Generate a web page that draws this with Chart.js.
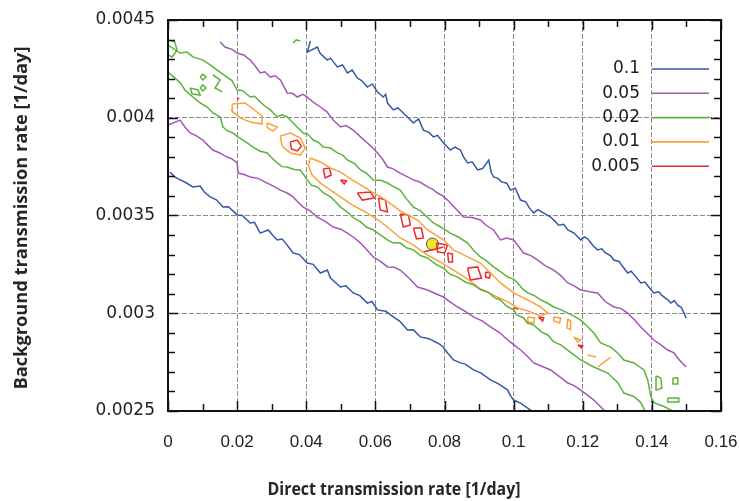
<!DOCTYPE html>
<html>
<head>
<meta charset="utf-8">
<script src="https://cdn.jsdelivr.net/npm/chart.js@4.4.1/dist/chart.umd.min.js"></script>
<style>
  html, body { margin: 0; padding: 0; background: #fff; }
  canvas { display: block; }
</style>
</head>
<body>
<canvas id="c" width="740" height="501"></canvas>
<script>
// ---- axes ----
var X_TICKS = [0, 0.02, 0.04, 0.06, 0.08, 0.1, 0.12, 0.14, 0.16];
var Y_TICKS = [0.0025, 0.003, 0.0035, 0.004, 0.0045];
var X_TITLE = 'Direct transmission rate [1/day]';
var Y_TITLE = 'Background transmission rate [1/day]';

// ---- contour levels (legend order) ----
var LEVELS = ['0.1', '0.05', '0.02', '0.01', '0.005'];
var LEVEL_COLORS = ['#3358a8', '#a356b5', '#5bb33b', '#fba23a', '#ec2a2e'];

// level 0.1
var blueUpper = [
  [0.0412,0.004393],[0.0403,0.004336],[0.0432,0.004362],[0.0440,0.004330],[0.0461,0.004295],
  [0.0470,0.004305],[0.0490,0.004260],[0.0505,0.004270],[0.0519,0.004229],[0.0533,0.004244],
  [0.0548,0.004203],[0.0560,0.004190],[0.0577,0.004157],[0.0591,0.004173],[0.0606,0.004132],
  [0.0623,0.004106],[0.0630,0.004120],[0.0635,0.004075],[0.0652,0.004040],[0.0665,0.004050],
  [0.0681,0.004024],[0.0695,0.004000],[0.0710,0.003973],[0.0725,0.003994],[0.0739,0.003937],
  [0.0755,0.003925],[0.0768,0.003902],[0.0780,0.003910],[0.0797,0.003871],[0.0817,0.003835],
  [0.0830,0.003850],[0.0846,0.003835],[0.0855,0.003800],[0.0867,0.003769],[0.0880,0.003775],
  [0.0896,0.003733],[0.0910,0.003740],[0.0928,0.003784],[0.0935,0.003720],[0.0942,0.003697],
  [0.0955,0.003690],[0.0965,0.003672],[0.0980,0.003665],[0.0991,0.003630],[0.1005,0.003640],
  [0.1020,0.003579],[0.1035,0.003570],[0.1045,0.003540],[0.1058,0.003513],[0.1070,0.003530],
  [0.1080,0.003520],[0.1095,0.003505],[0.1107,0.003492],[0.1120,0.003470],[0.1130,0.003450],
  [0.1145,0.003455],[0.1157,0.003426],[0.1175,0.003410],[0.1194,0.003375],[0.1205,0.003390],
  [0.1215,0.003380],[0.1230,0.003345],[0.1243,0.003324],[0.1255,0.003330],[0.1265,0.003310],
  [0.1280,0.003295],[0.1290,0.003272],[0.1305,0.003265],[0.1315,0.003240],[0.1330,0.003206],
  [0.1340,0.003215],[0.1350,0.003195],[0.1368,0.003155],[0.1380,0.003160],[0.1395,0.003125],
  [0.1406,0.003104],[0.1420,0.003110],[0.1430,0.003090],[0.1445,0.003070],[0.1455,0.003052],
  [0.1465,0.003065],[0.1475,0.003040],[0.1485,0.003030],[0.1493,0.003001],[0.1499,0.002976]
];
var blueLower = [
  [0.0006,0.003722],[0.0020,0.003697],[0.0035,0.003682],[0.0050,0.003670],[0.0072,0.003646],
  [0.0093,0.003651],[0.0105,0.003620],[0.0122,0.003595],[0.0140,0.003580],[0.0159,0.003543],
  [0.0175,0.003545],[0.0200,0.003503],[0.0215,0.003500],[0.0238,0.003462],[0.0250,0.003465],
  [0.0267,0.003410],[0.0290,0.003426],[0.0305,0.003395],[0.0316,0.003375],[0.0330,0.003380],
  [0.0340,0.003360],[0.0362,0.003308],[0.0380,0.003300],[0.0403,0.003257],[0.0420,0.003250],
  [0.0441,0.003206],[0.0461,0.003221],[0.0470,0.003180],[0.0499,0.003134],[0.0515,0.003140],
  [0.0536,0.003104],[0.0555,0.003090],[0.0577,0.003052],[0.0590,0.003060],[0.0606,0.003017],
  [0.0630,0.003010],[0.0652,0.002981],[0.0670,0.002960],[0.0693,0.002914],[0.0710,0.002915],
  [0.0730,0.002879],[0.0755,0.002870],[0.0780,0.002848],[0.0795,0.002830],[0.0809,0.002797],
  [0.0826,0.002761],[0.0846,0.002746],[0.0860,0.002740],[0.0884,0.002710],[0.0905,0.002695],
  [0.0933,0.002659],[0.0955,0.002640],[0.0983,0.002607],[0.0990,0.002580],[0.1000,0.002556],
  [0.1020,0.002540],[0.1049,0.002505],[0.1065,0.002480]
];

// level 0.05
var purpleUpper = [
  [0.0151,0.004387],[0.0165,0.004362],[0.0185,0.004350],[0.0200,0.004331],[0.0220,0.004320],
  [0.0238,0.004295],[0.0250,0.004270],[0.0267,0.004229],[0.0280,0.004235],[0.0296,0.004208],
  [0.0310,0.004215],[0.0325,0.004193],[0.0335,0.004160],[0.0345,0.004127],[0.0360,0.004125],
  [0.0374,0.004106],[0.0390,0.004120],[0.0403,0.004106],[0.0420,0.004080],[0.0441,0.004055],
  [0.0460,0.004030],[0.0478,0.003988],[0.0499,0.003953],[0.0515,0.003960],[0.0536,0.003937],
  [0.0557,0.003902],[0.0577,0.003871],[0.0590,0.003850],[0.0606,0.003820],[0.0620,0.003790],
  [0.0635,0.003748],[0.0650,0.003740],[0.0672,0.003717],[0.0690,0.003700],[0.0710,0.003682],
  [0.0730,0.003670],[0.0751,0.003646],[0.0765,0.003635],[0.0780,0.003615],[0.0795,0.003600],
  [0.0809,0.003579],[0.0830,0.003540],[0.0855,0.003492],[0.0880,0.003490],[0.0904,0.003477],
  [0.0920,0.003450],[0.0942,0.003426],[0.0962,0.003375],[0.0980,0.003385],[0.1000,0.003375],
  [0.1015,0.003340],[0.1029,0.003308],[0.1050,0.003295],[0.1070,0.003272],[0.1090,0.003245],
  [0.1116,0.003221],[0.1135,0.003195],[0.1157,0.003155],[0.1175,0.003140],[0.1194,0.003119],
  [0.1220,0.003110],[0.1243,0.003104],[0.1265,0.003060],[0.1290,0.003032],[0.1310,0.003025],
  [0.1330,0.003001],[0.1350,0.002965],[0.1368,0.002930],[0.1385,0.002900],[0.1406,0.002863],
  [0.1425,0.002840],[0.1446,0.002812],[0.1464,0.002797],[0.1480,0.002760],[0.1499,0.002725]
];
var purpleLower = [
  [0.0000,0.003963],[0.0035,0.003988],[0.0050,0.003950],[0.0064,0.003922],[0.0080,0.003910],
  [0.0101,0.003886],[0.0115,0.003860],[0.0130,0.003835],[0.0150,0.003820],[0.0171,0.003799],
  [0.0185,0.003790],[0.0200,0.003769],[0.0203,0.003717],[0.0220,0.003710],[0.0238,0.003697],
  [0.0260,0.003690],[0.0287,0.003666],[0.0305,0.003650],[0.0325,0.003630],[0.0345,0.003615],
  [0.0362,0.003595],[0.0375,0.003570],[0.0391,0.003543],[0.0410,0.003525],[0.0432,0.003492],
  [0.0455,0.003470],[0.0478,0.003441],[0.0500,0.003430],[0.0519,0.003410],[0.0540,0.003385],
  [0.0557,0.003359],[0.0575,0.003325],[0.0594,0.003288],[0.0615,0.003265],[0.0635,0.003237],
  [0.0655,0.003235],[0.0672,0.003221],[0.0700,0.003175],[0.0722,0.003134],[0.0751,0.003119],
  [0.0775,0.003100],[0.0797,0.003083],[0.0815,0.003060],[0.0838,0.003032],[0.0860,0.003010],
  [0.0884,0.002981],[0.0910,0.002960],[0.0933,0.002930],[0.0960,0.002900],[0.0983,0.002863],
  [0.1000,0.002840],[0.1020,0.002812],[0.1040,0.002780],[0.1058,0.002746],[0.1080,0.002730],
  [0.1107,0.002710],[0.1130,0.002680],[0.1157,0.002643],[0.1175,0.002630],[0.1194,0.002607],
  [0.1215,0.002580],[0.1232,0.002556],[0.1261,0.002505],[0.1275,0.002474]
];

// level 0.02 (closed band + islands)
var greenBand = [
  [0.0000,0.004372],[0.0035,0.004331],[0.0055,0.004336],[0.0072,0.004311],[0.0101,0.004295],
  [0.0122,0.004270],[0.0142,0.004244],[0.0171,0.004208],[0.0185,0.004190],[0.0200,0.004142],
  [0.0215,0.004140],[0.0238,0.004106],[0.0250,0.004110],[0.0267,0.004081],[0.0280,0.004060],
  [0.0296,0.004040],[0.0316,0.004004],[0.0330,0.004015],[0.0345,0.004004],[0.0362,0.003973],
  [0.0375,0.003950],[0.0391,0.003922],[0.0405,0.003915],[0.0420,0.003886],[0.0435,0.003875],
  [0.0449,0.003850],[0.0470,0.003845],[0.0490,0.003820],[0.0505,0.003810],[0.0519,0.003784],
  [0.0540,0.003765],[0.0557,0.003733],[0.0575,0.003715],[0.0594,0.003682],[0.0615,0.003680],
  [0.0635,0.003666],[0.0650,0.003650],[0.0672,0.003630],[0.0690,0.003585],[0.0710,0.003543],
  [0.0730,0.003525],[0.0745,0.003500],[0.0768,0.003462],[0.0790,0.003440],[0.0817,0.003410],
  [0.0840,0.003390],[0.0867,0.003359],[0.0885,0.003320],[0.0904,0.003288],[0.0920,0.003270],
  [0.0942,0.003237],[0.0960,0.003215],[0.0983,0.003185],[0.1000,0.003175],[0.1012,0.003155],
  [0.1025,0.003125],[0.1041,0.003104],[0.1060,0.003090],[0.1078,0.003068],[0.1095,0.003055],
  [0.1116,0.003032],[0.1135,0.003020],[0.1157,0.003001],[0.1175,0.002985],[0.1194,0.002965],
  [0.1215,0.002930],[0.1232,0.002899],[0.1252,0.002848],[0.1281,0.002827],[0.1301,0.002797],
  [0.1319,0.002761],[0.1348,0.002746],[0.1377,0.002710],[0.1388,0.002659],[0.1397,0.002574],
  [0.1406,0.002543],[0.1435,0.002523],[0.1455,0.002505],[0.1461,0.002474],
  [0.1388,0.002474],[0.1368,0.002543],[0.1348,0.002574],[0.1319,0.002592],[0.1301,0.002646],
  [0.1272,0.002694],[0.1232,0.002725],[0.1194,0.002761],[0.1165,0.002800],[0.1136,0.002838],
  [0.1115,0.002855],[0.1099,0.002889],[0.1080,0.002905],[0.1058,0.002940],[0.1040,0.002950],
  [0.1029,0.002976],[0.1010,0.002990],[0.1000,0.003017],[0.0980,0.003035],[0.0962,0.003068],
  [0.0945,0.003080],[0.0925,0.003109],[0.0905,0.003120],[0.0884,0.003145],[0.0860,0.003160],
  [0.0838,0.003185],[0.0815,0.003200],[0.0797,0.003231],[0.0775,0.003250],[0.0751,0.003283],
  [0.0730,0.003295],[0.0710,0.003324],[0.0690,0.003335],[0.0672,0.003359],[0.0650,0.003360],
  [0.0635,0.003375],[0.0615,0.003400],[0.0594,0.003426],[0.0575,0.003440],[0.0557,0.003467],
  [0.0535,0.003490],[0.0519,0.003518],[0.0499,0.003543],[0.0485,0.003570],[0.0470,0.003595],
  [0.0450,0.003615],[0.0432,0.003646],[0.0415,0.003655],[0.0403,0.003682],[0.0383,0.003733],
  [0.0365,0.003735],[0.0345,0.003748],[0.0330,0.003750],[0.0316,0.003769],[0.0300,0.003795],
  [0.0287,0.003820],[0.0265,0.003830],[0.0246,0.003850],[0.0230,0.003870],[0.0217,0.003886],
  [0.0200,0.003905],[0.0188,0.003922],[0.0170,0.003935],[0.0159,0.003953],[0.0151,0.004004],
  [0.0130,0.004025],[0.0113,0.004055],[0.0090,0.004080],[0.0072,0.004106],[0.0050,0.004140],
  [0.0035,0.004180],[0.0000,0.004234]
];
var greenIslands = [
  [[0.0000,0.004398],[0.0020,0.004387],[0.0026,0.004346],[0.0012,0.004311],[0.0000,0.004321]],
  [[0.0093,0.004208],[0.0101,0.004223],[0.0110,0.004208],[0.0101,0.004193],[0.0093,0.004208]],
  [[0.0093,0.004152],[0.0101,0.004168],[0.0110,0.004152],[0.0101,0.004137],[0.0093,0.004152]],
  [[0.0064,0.004152],[0.0087,0.004142],[0.0093,0.004116],[0.0070,0.004121],[0.0064,0.004152]],
  [[0.0130,0.004219],[0.0151,0.004193],[0.0136,0.004152],[0.0157,0.004132]],
  [[0.0362,0.004382],[0.0371,0.004398],[0.0383,0.004392]],
  [[0.1412,0.002679],[0.1426,0.002669],[0.1429,0.002618],[0.1414,0.002607],[0.1412,0.002679]],
  [[0.1461,0.002669],[0.1475,0.002669],[0.1475,0.002638],[0.1461,0.002638],[0.1461,0.002669]],
  [[0.1446,0.002566],[0.1478,0.002566],[0.1478,0.002546],[0.1446,0.002546],[0.1446,0.002566]]
];

// level 0.01
var orangeLoops = [
  [[0.0186,0.004070],[0.0223,0.004075],[0.0243,0.004050],[0.0272,0.004009],[0.0272,0.003968],
   [0.0238,0.003978],[0.0209,0.003999],[0.0188,0.004029],[0.0186,0.004070]],
  [[0.0287,0.003973],[0.0316,0.003953],[0.0304,0.003932],[0.0287,0.003950],[0.0287,0.003973]],
  [[0.0325,0.003907],[0.0354,0.003922],[0.0383,0.003896],[0.0397,0.003845],[0.0383,0.003809],
   [0.0354,0.003820],[0.0330,0.003855],[0.0325,0.003907]],
  [[0.0412,0.003794],[0.0441,0.003774],[0.0470,0.003743],[0.0499,0.003722],[0.0533,0.003682],
   [0.0562,0.003651],[0.0591,0.003620],[0.0620,0.003590],[0.0649,0.003554],[0.0672,0.003523],
   [0.0722,0.003477],[0.0751,0.003426],[0.0797,0.003375],[0.0826,0.003324],[0.0867,0.003288],
   [0.0904,0.003257],[0.0933,0.003206],[0.0962,0.003155],[0.1000,0.003104],[0.1041,0.003068],
   [0.1078,0.003032],[0.1099,0.003001],[0.1078,0.002986],[0.1041,0.003012],[0.1012,0.003027],
   [0.0983,0.003058],[0.0942,0.003093],[0.0904,0.003124],[0.0867,0.003175],[0.0817,0.003231],
   [0.0788,0.003262],[0.0751,0.003298],[0.0710,0.003349],[0.0672,0.003385],[0.0638,0.003436],
   [0.0609,0.003477],[0.0571,0.003518],[0.0533,0.003554],[0.0499,0.003595],[0.0470,0.003630],
   [0.0441,0.003666],[0.0417,0.003707],[0.0406,0.003758],[0.0412,0.003794]],
  [[0.1041,0.002981],[0.1061,0.002976],[0.1058,0.002950],[0.1041,0.002955],[0.1041,0.002981]],
  [[0.1116,0.002981],[0.1136,0.002976],[0.1133,0.002950],[0.1116,0.002960],[0.1116,0.002981]],
  [[0.1157,0.002971],[0.1165,0.002960],[0.1165,0.002915],[0.1154,0.002925],[0.1157,0.002971]],
  [[0.1174,0.002878],[0.1194,0.002863],[0.1186,0.002853],[0.1174,0.002878]],
  [[0.1214,0.002786],[0.1238,0.002776]],
  [[0.1243,0.002725],[0.1281,0.002776]]
];

// level 0.005
var redLoops = [
  [[0.0183,0.004040],[0.0188,0.004035],[0.0183,0.004040]],
  [[0.0200,0.004101],[0.0206,0.004096],[0.0200,0.004101]],
  [[0.0354,0.003876],[0.0374,0.003886],[0.0386,0.003855],[0.0374,0.003830],[0.0357,0.003840],[0.0354,0.003876]],
  [[0.0449,0.003738],[0.0467,0.003743],[0.0472,0.003707],[0.0455,0.003692],[0.0449,0.003738]],
  [[0.0499,0.003682],[0.0516,0.003677],[0.0510,0.003661],[0.0499,0.003682]],
  [[0.0548,0.003615],[0.0586,0.003620],[0.0597,0.003590],[0.0562,0.003579],[0.0548,0.003615]],
  [[0.0609,0.003590],[0.0629,0.003579],[0.0635,0.003518],[0.0614,0.003528],[0.0609,0.003590]],
  [[0.0672,0.003508],[0.0696,0.003503],[0.0701,0.003452],[0.0681,0.003441],[0.0672,0.003508]],
  [[0.0710,0.003436],[0.0733,0.003436],[0.0739,0.003385],[0.0719,0.003380],[0.0710,0.003436]],
  [[0.0777,0.003359],[0.0809,0.003349],[0.0800,0.003308],[0.0780,0.003313],[0.0777,0.003359]],
  [[0.0739,0.003313],[0.0797,0.003339]],
  [[0.0809,0.003308],[0.0823,0.003303],[0.0823,0.003262],[0.0812,0.003262],[0.0809,0.003308]],
  [[0.0867,0.003231],[0.0896,0.003237],[0.0907,0.003180],[0.0875,0.003170],[0.0867,0.003231]],
  [[0.0919,0.003211],[0.0933,0.003206],[0.0930,0.003180],[0.0919,0.003185],[0.0919,0.003211]],
  [[0.1000,0.003027],[0.1014,0.003022]],
  [[0.1072,0.002981],[0.1087,0.002976],[0.1084,0.002960],[0.1072,0.002981]],
  [[0.1186,0.002838],[0.1200,0.002833],[0.1197,0.002822],[0.1186,0.002838]]
];

// best estimate
var bestPoint = [[0.0765, 0.003354]];

function toXY(pts) { return pts.map(function (p) { return { x: p[0], y: p[1] }; }); }
function contour(pts, color) {
  return { data: toXY(pts), showLine: true, borderColor: color, borderWidth: 1.5,
           pointRadius: 0, fill: false, tension: 0 };
}

var datasets = [];
datasets.push(contour(blueUpper, LEVEL_COLORS[0]), contour(blueLower, LEVEL_COLORS[0]));
datasets.push(contour(purpleUpper, LEVEL_COLORS[1]), contour(purpleLower, LEVEL_COLORS[1]));
datasets.push(contour(greenBand, LEVEL_COLORS[2]));
greenIslands.forEach(function (g) { datasets.push(contour(g, LEVEL_COLORS[2])); });
orangeLoops.forEach(function (g) { datasets.push(contour(g, LEVEL_COLORS[3])); });
redLoops.forEach(function (g) { datasets.push(contour(g, LEVEL_COLORS[4])); });
datasets.push({ data: toXY(bestPoint), showLine: false, pointRadius: 6, pointBackgroundColor: '#eee82a',
                pointBorderColor: '#555', pointBorderWidth: 1 });

function fmt(v) { return String(Number(v.toFixed(5))); }

// frame, inward ticks (major + minor, mirrored), legend, axis titles
var decor = {
  id: 'decor',
  afterDatasetsDraw: function (chart) {
    var ctx = chart.ctx, a = chart.chartArea, xs = chart.scales.x, ys = chart.scales.y;
    ctx.save();
    ctx.strokeStyle = '#111';
    ctx.lineWidth = 1.5;
    var i, v, px, len;
    for (i = 0; i <= 16; i++) {
      v = i * 0.01; px = Math.round(xs.getPixelForValue(v)) + 0.5;
      len = (i % 2 === 0) ? 10 : 7;
      ctx.beginPath();
      ctx.moveTo(px, a.bottom); ctx.lineTo(px, a.bottom - len);
      ctx.moveTo(px, a.top); ctx.lineTo(px, a.top + len);
      ctx.stroke();
    }
    for (i = 0; i <= 20; i++) {
      v = 0.0025 + i * 0.0001; px = Math.round(ys.getPixelForValue(v)) + 0.5;
      len = (i % 5 === 0) ? 10 : 7;
      ctx.beginPath();
      ctx.moveTo(a.left, px); ctx.lineTo(a.left + len, px);
      ctx.moveTo(a.right, px); ctx.lineTo(a.right - len, px);
      ctx.stroke();
    }
    ctx.lineWidth = 2;
    ctx.strokeRect(a.left, a.top, a.right - a.left, a.bottom - a.top);

    // legend
    ctx.font = "17px 'DejaVu Sans'";
    ctx.textAlign = 'right';
    ctx.textBaseline = 'middle';
    ctx.fillStyle = '#1a1a1a';
    LEVELS.forEach(function (lv, k) {
      var y = a.top + 49 + k * 24.3;
      ctx.fillText(lv, a.right - 81, y);
      ctx.strokeStyle = LEVEL_COLORS[k];
      ctx.lineWidth = 1.6;
      ctx.beginPath(); ctx.moveTo(a.right - 69, y); ctx.lineTo(a.right - 12, y); ctx.stroke();
    });

    // axis titles
    ctx.fillStyle = '#262626';
    ctx.textAlign = 'center';
    ctx.textBaseline = 'middle';
    ctx.font = "bold 18px 'Open Sans'";
    var w = ctx.measureText(X_TITLE).width;
    ctx.save();
    ctx.translate(394, 490);
    ctx.scale(253 / w, 1);
    ctx.fillText(X_TITLE, 0, 0);
    ctx.restore();

    w = ctx.measureText(Y_TITLE).width;
    ctx.save();
    ctx.translate(22, 218);
    ctx.rotate(-Math.PI / 2);
    ctx.scale(343 / w, 1);
    ctx.fillText(Y_TITLE, 0, 0);
    ctx.restore();
    ctx.restore();
  }
};

new Chart(document.getElementById('c'), {
  type: 'scatter',
  data: { datasets: datasets },
  options: {
    responsive: false,
    animation: false,
    layout: { padding: { top: 20, right: 19, left: 0, bottom: 0 } },
    plugins: { legend: { display: false }, tooltip: { enabled: false } },
    scales: {
      x: {
        type: 'linear', min: 0, max: 0.16,
        afterBuildTicks: function (s) { s.ticks = X_TICKS.map(function (v) { return { value: v }; }); },
        afterFit: function (s) { s.height = 90; s.paddingLeft = 0; s.paddingRight = 0; },
        grid: { color: '#8c8c8c', lineWidth: 1, drawTicks: false },
        border: { display: false, dash: [5, 2] },
        ticks: { padding: 21, color: '#222', font: { family: 'Liberation Sans', size: 17 },
                 maxRotation: 0, autoSkip: false, callback: function (v) { return fmt(v); } }
      },
      y: {
        type: 'linear', min: 0.0025, max: 0.0045,
        afterBuildTicks: function (s) { s.ticks = Y_TICKS.map(function (v) { return { value: v }; }); },
        afterFit: function (s) { s.width = 168; s.paddingTop = 0; s.paddingBottom = 0; },
        grid: { color: '#8c8c8c', lineWidth: 1, drawTicks: false },
        border: { display: false, dash: [5, 2] },
        ticks: { padding: 13, color: '#222', font: { family: 'DejaVu Sans', size: 17 },
                 callback: function (v) { return fmt(v); } }
      }
    }
  },
  plugins: [decor]
});
</script>
</body>
</html>
